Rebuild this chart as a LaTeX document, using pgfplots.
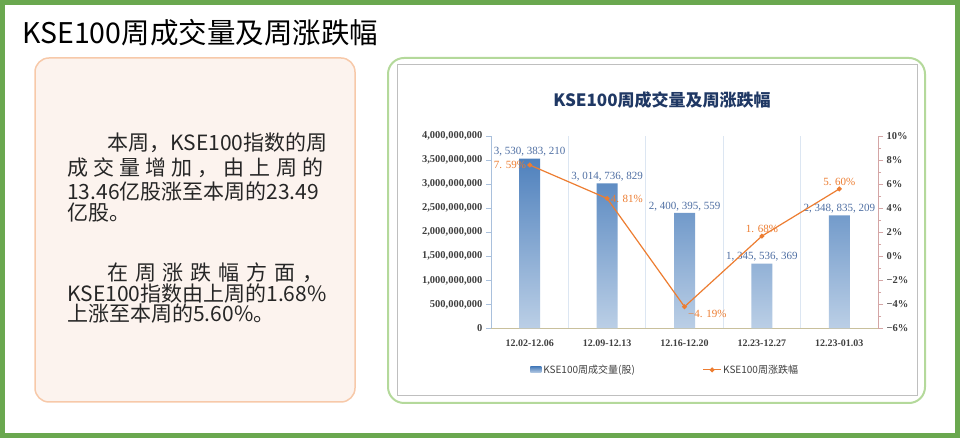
\documentclass[border=0pt]{standalone}
\usepackage{fontspec}
\setmainfont{Liberation Serif}
\newfontfamily\cjk{Noto Sans CJK SC}
\usepackage{pgfplots}
\pgfplotsset{compat=1.18}

\definecolor{outergreen}{HTML}{6AA84F}
\definecolor{boxgreen}{HTML}{B4D99B}
\definecolor{peachline}{HTML}{F7C9A9}
\definecolor{peachfill}{HTML}{FCF3EE}
\definecolor{navy}{HTML}{1F3864}
\definecolor{barTop}{HTML}{4F81BD}
\definecolor{barBot}{HTML}{BBCFE6}
\definecolor{lblblue}{HTML}{4F6FA3}
\definecolor{lineorange}{HTML}{ED7D31}
\definecolor{txtgray}{HTML}{404040}
\definecolor{gridblue}{HTML}{DCE6F2}
\definecolor{leftaxis}{HTML}{A9C0DC}
\definecolor{bottomaxis}{HTML}{C9C09C}
\definecolor{rightaxis}{HTML}{D4A5A5}

\pgfplotsset{pctlbl/.style={draw=none, mark=none, forget plot,
  point meta=explicit symbolic, nodes near coords,
  nodes near coords style={font=\fontsize{11}{12}\selectfont, text=lineorange, anchor=#1, inner sep=3.5pt}}}

\begin{document}
\begin{tikzpicture}[x=1pt,y=1pt]
\useasboundingbox (0,0) rectangle (960,438);
\draw[outergreen, line width=5pt] (2.5,2.5) rectangle (957.5,435.5);
\node[anchor=west, inner sep=0] at (22,405) {\cjk\fontsize{28.5}{32}\selectfont KSE100周成交量及周涨跌幅};

% left text panel
\draw[draw=peachline, fill=peachfill, line width=1.5pt, rounded corners=14pt] (35,380) rectangle (355,36);
\begin{scope}[every node/.style={anchor=west, inner sep=0, text=black!85, font=\cjk\fontsize{21}{24}\selectfont}]
\node at (107,295) {本周，KSE100指数的周};
\node at (67,270) {\makebox[256pt][s]{成\hfill 交\hfill 量\hfill 增\hfill 加\hfill ，\hfill 由\hfill 上\hfill 周\hfill 的}};
\node at (67,246) {13.46亿股涨至本周的23.49};
\node at (67,225) {亿股。};
\node at (107,165) {\makebox[216pt][s]{在\hfill 周\hfill 涨\hfill 跌\hfill 幅\hfill 方\hfill 面\hfill ，}};
\node at (67,144) {KSE100指数由上周的1.68\%};
\node at (67,124) {上涨至本周的5.60\%。};
\end{scope}

% right chart panel
\draw[draw=boxgreen, line width=2pt, rounded corners=16pt] (388,380) rectangle (925,35);
\draw[draw=black!25, fill=white, line width=1pt] (397,373) rectangle (917,42);
\node at (662,338) {\cjk\bfseries\fontsize{17}{20}\selectfont\color{navy}KSE100周成交量及周涨跌幅};

\begin{axis}[
  at={(491pt,109.5pt)}, anchor=south west,
  scale only axis, width=387pt, height=192.5pt,
  xmin=-0.5, xmax=4.5, ymin=0, ymax=4000000000,
  axis y line*=left, axis x line*=bottom,
  axis line style={-},
  x axis line style={-, bottomaxis, line width=1pt},
  y axis line style={-, leftaxis, line width=1pt},
  xtick={0,1,2,3,4},
  xticklabels={12.02-12.06,12.09-12.13,12.16-12.20,12.23-12.27,12.23-01.03},
  x tick label style={font=\bfseries\fontsize{10}{12}\selectfont, text=txtgray, yshift=-3pt},
  major x tick style={draw=none},
  minor xtick={0.5,1.5,2.5,3.5},
  minor x tick style={draw=none},
  xminorgrids, minor x grid style={gridblue, line width=1pt},
  ytick={0,500000000,1000000000,1500000000,2000000000,2500000000,3000000000,3500000000,4000000000},
  yticklabels={0,{500,000,000},{1,000,000,000},{1,500,000,000},{2,000,000,000},{2,500,000,000},{3,000,000,000},{3,500,000,000},{4,000,000,000}},
  y tick label style={font=\bfseries\fontsize{10.5}{12}\selectfont, text=txtgray},
  ytick style={leftaxis, line width=0.8pt},
  tick align=outside, major tick length=5pt,
  scaled y ticks=false,
  clip=false,
]
\addplot[ybar, bar width=21pt, draw=none, top color=barTop, bottom color=barBot,
  point meta=explicit symbolic, nodes near coords,
  nodes near coords style={font=\fontsize{11}{12}\selectfont, text=lblblue, inner sep=2pt}]
  coordinates {(0,3530383210) [3, 530, 383, 210]
               (1,3014736829) [3, 014, 736, 829]
               (2,2400395559) [2, 400, 395, 559]
               (3,1345536369) [1, 345, 536, 369]
               (4,2348835209) [2, 348, 835, 209]};
\end{axis}

\begin{axis}[
  at={(491pt,109.5pt)}, anchor=south west,
  scale only axis, width=387pt, height=192.5pt,
  xmin=-0.5, xmax=4.5, ymin=-6, ymax=10,
  axis y line*=right, axis x line=none,
  axis line style={-},
  y axis line style={-, rightaxis, line width=1pt},
  ytick={-6,-4,-2,0,2,4,6,8,10},
  yticklabels={−6\%,−4\%,−2\%,0\%,2\%,4\%,6\%,8\%,10\%},
  minor y tick num=1,
  y tick label style={font=\bfseries\fontsize{10.5}{12}\selectfont, text=txtgray},
  ytick style={rightaxis, line width=0.8pt},
  tick align=outside, major tick length=5pt, minor tick length=3pt,
  clip=false,
  legend columns=2,
  legend cell align=left,
  legend style={at={(0.45,-0.215)}, anchor=center, draw=none, fill=none,
    font=\cjk\fontsize{10}{12}\selectfont, text=txtgray,
    /tikz/every even column/.append style={column sep=66pt}},
]
\addlegendimage{legend image code/.code={\path[draw=none, top color=barTop, bottom color=barBot] (0pt,-3pt) rectangle (11pt,3pt);}}
\addlegendentry{KSE100周成交量(股)}
\addplot[lineorange, line width=1.2pt, mark=*, mark size=1.8pt]
  coordinates {(0,7.59) (1,4.81) (2,-4.19) (3,1.68) (4,5.60)};
\addlegendentry{KSE100周涨跌幅}
\addplot[pctlbl=east] coordinates {(0,7.59) [7. 59\%]};
\addplot[pctlbl=west] coordinates {(1,4.81) [4. 81\%]};
\addplot[pctlbl={north west}] coordinates {(2,-4.19) [−4. 19\%]};
\addplot[pctlbl=south] coordinates {(3,1.68) [1. 68\%] (4,5.60) [5. 60\%]};
\end{axis}
\end{tikzpicture}
\end{document}
